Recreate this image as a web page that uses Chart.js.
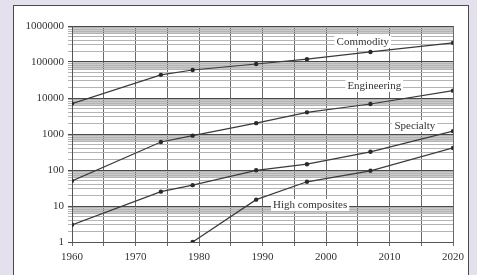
<!DOCTYPE html>
<html>
<head>
<meta charset="utf-8">
<script src="https://cdn.jsdelivr.net/npm/chart.js@4/dist/chart.umd.min.js"></script>
<style>
  body { margin: 0; background: #e4e0ee; width: 477px; height: 275px; overflow: hidden; position: relative; }
  .panel { position: absolute; left: 13px; top: 5px; width: 454px; height: 290px; background: #fff; border: 1.5px solid #4a4a4a; }
  #chart { position: absolute; left: 0; top: 0; }
</style>
</head>
<body>
<div class="panel"></div>
<canvas id="chart" width="477" height="275"></canvas>
<script>
// Production volumes (log scale)
const years = [1960, 1974, 1979, 1989, 1997, 2007, 2020];
const commodity = [7000, 44000, 60000, 88000, 120000, 190000, 340000];
const engineering = [50, 600, 900, 2000, 4000, 6800, 16000];
const specialty = [3, 25, 38, 98, 145, 320, 1200];
const highComposites = [null, null, 1, 15, 47, 95, 410];

const yTickLabels = ['1', '10', '100', '1000', '10000', '100000', '1000000'];
const xTickLabels = ['1960', '1970', '1980', '1990', '2000', '2010', '2020'];

// series name labels: [text, year, value]
const seriesLabels = [
  ['Commodity', 2005.8, 360000],
  ['Engineering', 2007.6, 21500],
  ['Specialty', 2014, 1670],
  ['High composites', 1997.5, 10.7]
];

const serif = "'Liberation Serif', 'DejaVu Serif', serif";
const ink = '#333';

function toPoints(values) {
  return years.map((y, i) => ({ x: y, y: values[i] }));
}

function isDecade(v) {
  const l = Math.log10(v);
  return Math.abs(l - Math.round(l)) < 1e-9;
}

function makeSet(values) {
  return {
    data: toPoints(values),
    borderColor: '#3a3a3a',
    backgroundColor: '#2a2a2a',
    borderWidth: 1.2,
    pointRadius: 2.2,
    pointBorderWidth: 0,
    tension: 0
  };
}

// gray band in the upper part of each decade
const bandPlugin = {
  id: 'bands',
  beforeDraw(chart) {
    const ctx = chart.ctx;
    const y = chart.scales.y;
    const area = chart.chartArea;
    ctx.save();
    ctx.fillStyle = '#cbcbcb';
    for (let k = 0; k < 6; k++) {
      const top = y.getPixelForValue(Math.pow(10, k + 1));
      const bottom = y.getPixelForValue(6 * Math.pow(10, k));
      ctx.fillRect(area.left, top, area.right - area.left, bottom - top);
    }
    ctx.restore();
  }
};

const labelPlugin = {
  id: 'seriesLabels',
  afterDatasetsDraw(chart) {
    const ctx = chart.ctx;
    ctx.save();
    ctx.font = '11px ' + serif;
    ctx.textAlign = 'center';
    ctx.textBaseline = 'middle';
    seriesLabels.forEach(([text, yr, val]) => {
      const px = chart.scales.x.getPixelForValue(yr);
      const py = chart.scales.y.getPixelForValue(val);
      const w = ctx.measureText(text).width;
      ctx.fillStyle = '#fff';
      ctx.fillRect(px - w / 2 - 2, py - 6, w + 4, 12);
      ctx.fillStyle = ink;
      ctx.fillText(text, px, py);
    });
    ctx.restore();
  }
};

new Chart(document.getElementById('chart'), {
  type: 'line',
  data: {
    datasets: [
      makeSet(commodity),
      makeSet(engineering),
      makeSet(specialty),
      makeSet(highComposites)
    ]
  },
  options: {
    responsive: false,
    animation: false,
    layout: { padding: { left: 0, right: 24, top: 26, bottom: 0 } },
    plugins: {
      legend: { display: false },
      tooltip: { enabled: false }
    },
    scales: {
      x: {
        type: 'linear',
        min: 1960,
        max: 2020,
        afterFit: s => { s.height = 33; },
        ticks: {
          stepSize: 5,
          autoSkip: false,
          maxRotation: 0,
          padding: 5,
          color: ink,
          font: { family: serif, size: 11 },
          callback: v => (v % 10 === 0 ? xTickLabels[(v - 1960) / 10] : '')
        },
        grid: { color: '#6a6a6a', lineWidth: 1, tickLength: 4 },
        border: { color: '#555' }
      },
      y: {
        type: 'logarithmic',
        min: 1,
        max: 1000000,
        afterFit: s => { s.width = 72; },
        afterBuildTicks: s => {
          const ticks = [];
          for (let k = 0; k < 6; k++) {
            for (let m = 1; m < 10; m++) ticks.push({ value: m * Math.pow(10, k) });
          }
          ticks.push({ value: 1000000 });
          s.ticks = ticks;
        },
        ticks: {
          autoSkip: false,
          padding: 4,
          color: ink,
          font: { family: serif, size: 11 },
          callback: v => (isDecade(v) ? yTickLabels[Math.round(Math.log10(v))] : '')
        },
        grid: {
          tickLength: 4,
          color: c => (isDecade(c.tick.value) ? '#4a4a4a' : '#b4b4b4'),
          lineWidth: 1
        },
        border: { color: '#555' }
      }
    }
  },
  plugins: [bandPlugin, labelPlugin]
});
</script>
</body>
</html>
